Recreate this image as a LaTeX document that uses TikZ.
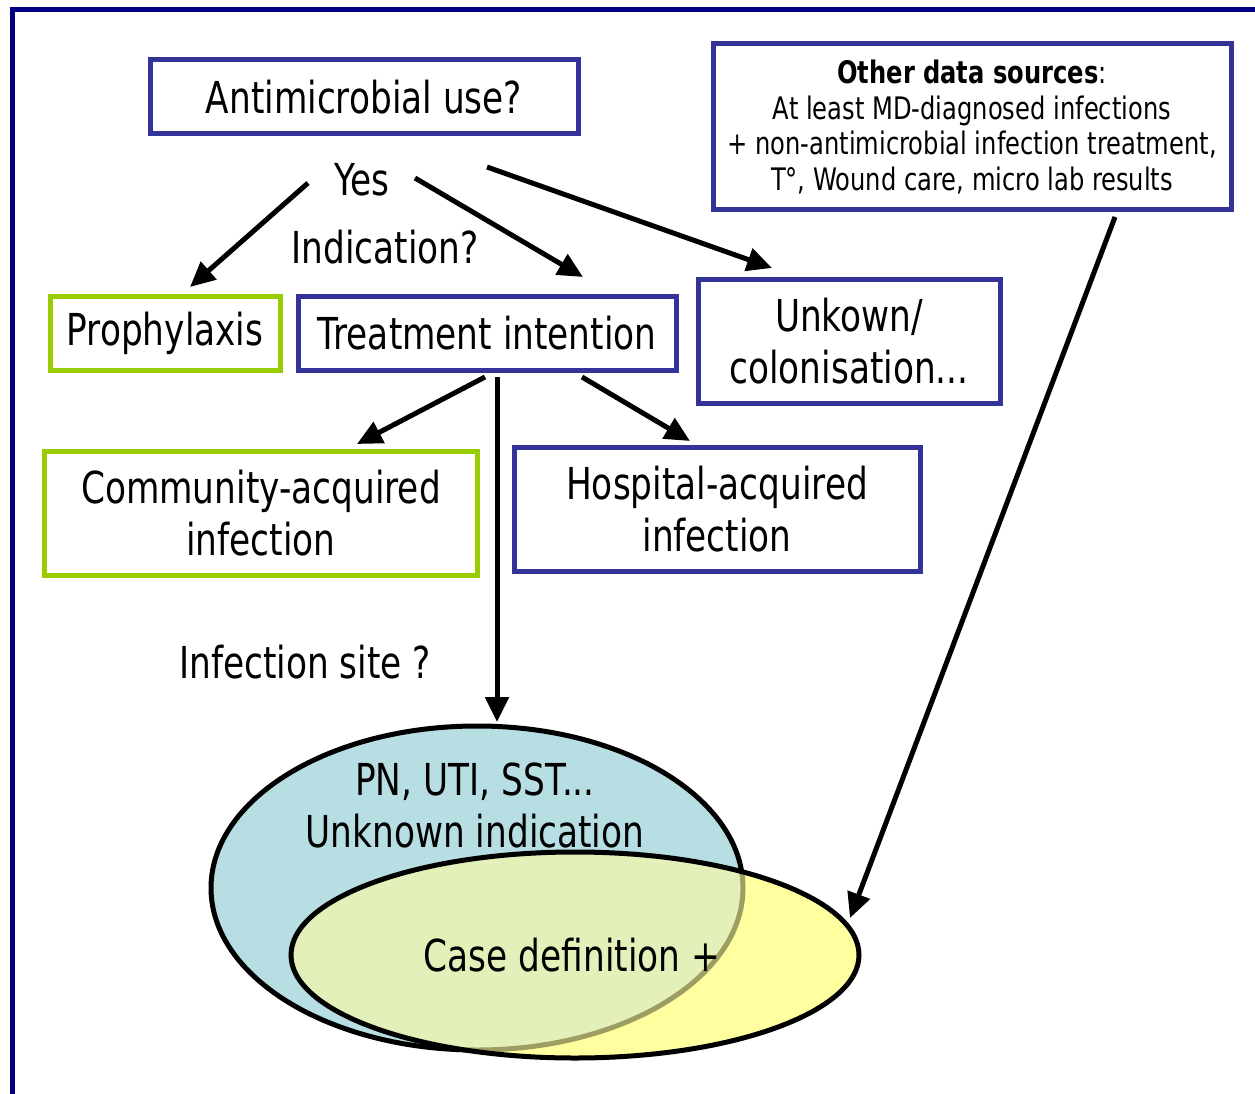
\documentclass[tikz,border=0pt]{standalone}
\usepackage{fontspec}
\setmainfont{DejaVu Sans}[FakeStretch=0.78]
\usetikzlibrary{arrows.meta,shapes.geometric}
\definecolor{boxblue}{RGB}{51,51,153}
\definecolor{boxgreen}{RGB}{153,204,0}
\definecolor{frameblue}{RGB}{0,0,128}
\definecolor{ellblue}{RGB}{183,222,227}
\definecolor{ellyellow}{RGB}{255,255,160}
\definecolor{ellmix}{RGB}{227,240,185}
\definecolor{ellolive}{RGB}{158,158,98}
\begin{document}
\begin{tikzpicture}[x=1pt,y=-1pt,
  bigtxt/.style={font=\fontsize{44}{52}\selectfont},
  smalltxt/.style={font=\fontsize{31}{35.5}\selectfont},
  bluebox/.style={draw=boxblue,line width=5pt,rectangle,align=center,inner sep=0pt},
  greenbox/.style={draw=boxgreen,line width=5pt,rectangle,align=center,inner sep=0pt},
  arr/.style={line width=5pt,-{Triangle[length=25pt,width=23pt]}},
  plain/.style={inner sep=0pt,align=center},
  ellbase/.style={ellipse,line width=5pt,inner sep=0pt}]
\useasboundingbox (0,0) rectangle (1255,1094);
\draw[frameblue,line width=5pt] (12,1100) -- (12,10) -- (1260,10);

\node[bluebox,bigtxt,minimum width=428pt,minimum height=74pt] (amu) at (364,97) {Antimicrobial use?};
\node[bluebox,smalltxt,minimum width=518pt,minimum height=166pt] (other) at (972,127)
  {\raisebox{0pt}{}\textbf{Other data sources}:\\At least MD-diagnosed infections\\+ non-antimicrobial infection treatment,\\T°, Wound care, micro lab results};
\node[plain,bigtxt] (yes) at (362,180) {Yes};
\node[plain,bigtxt] (ind) at (385,247) {Indication?};
\node[greenbox,bigtxt,minimum width=230pt,minimum height=74pt] (pro) at (165,333) {Prophylaxis};
\node[bluebox,bigtxt,minimum width=378pt,minimum height=74pt] (treat) at (487,333) {Treatment intention};
\node[bluebox,bigtxt,minimum width=302pt,minimum height=124pt] (unk) at (849,341) {Unkown/\\colonisation...};
\node[greenbox,bigtxt,minimum width=433pt,minimum height=124pt] (cai) at (261,513) {Community-acquired\\infection};
\node[bluebox,bigtxt,minimum width=406pt,minimum height=124pt] (hai) at (717,509) {Hospital-acquired\\infection};
\node[plain,bigtxt] (site) at (305,662) {Infection site ?};

% ellipses
\node[ellbase,draw=black,fill=ellblue,minimum width=532pt,minimum height=324pt] (blueell) at (477,888) {};
\node[ellbase,fill=ellyellow,minimum width=568pt,minimum height=206pt] (yellell) at (575,955) {};
\begin{scope}
  \clip (575,955) ellipse [x radius=284pt, y radius=103pt];
  \fill[ellmix] (477,888) ellipse [x radius=266pt, y radius=162pt];
  \draw[ellolive,line width=5pt] (477,888) ellipse [x radius=266pt, y radius=162pt];
\end{scope}
\draw[black,line width=5pt] (575,955) ellipse [x radius=284pt, y radius=103pt];
\node[plain,bigtxt] (pn) at (475,805) {PN, UTI, SST...\\Unknown indication};
\node[plain,bigtxt] (case) at (572,955) {Case definition +};

\coordinate (a1s) at (308,183); \coordinate (a1e) at (190,287);
\coordinate (a2s) at (415,178); \coordinate (a2e) at (583,277);
\coordinate (a3s) at (487,167); \coordinate (a3e) at (772,268);
\coordinate (a4s) at (485,377); \coordinate (a4e) at (357,444);
\coordinate (a5s) at (582,377); \coordinate (a5e) at (690,441);
\coordinate (a6s) at (497,377); \coordinate (a6e) at (497,722);
\coordinate (a7s) at (1115,217); \coordinate (a7e) at (850,918);
\draw[arr] (a1s) -- (a1e);
\draw[arr] (a2s) -- (a2e);
\draw[arr] (a3s) -- (a3e);
\draw[arr] (a4s) -- (a4e);
\draw[arr] (a5s) -- (a5e);
\draw[arr] (a6s) -- (a6e);
\draw[arr] (a7s) -- (a7e);
\end{tikzpicture}
\end{document}
